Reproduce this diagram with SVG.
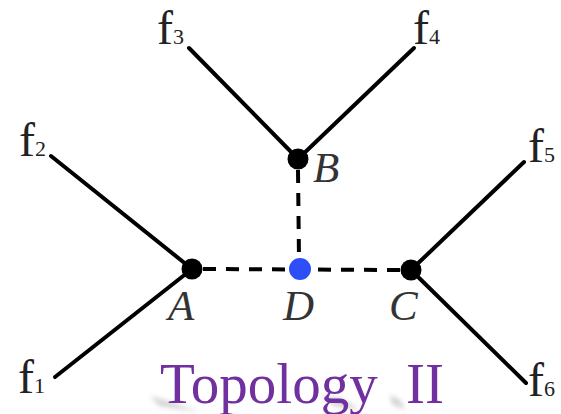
<svg xmlns="http://www.w3.org/2000/svg" width="561" height="414" viewBox="0 0 561 414" font-family="Liberation Serif">
<style>
.edge{stroke:#000;stroke-width:4;stroke-linecap:round;fill:none}
.dash{stroke:#000;stroke-width:4;fill:none;stroke-dasharray:13 10}
.f{font-size:48px;fill:#222}
.sub{font-size:22px}
.lbl{font-style:italic;font-size:43px;fill:#333}
.title{font-size:57px;fill:#7030A0}
</style>
<defs>
<filter id="blur" x="-20%" y="-50%" width="140%" height="200%"><feGaussianBlur stdDeviation="2.5"/></filter>
</defs>
<g id="connectors">
<line class="edge" x1="51" y1="156" x2="192" y2="269"/>
<line class="edge" x1="55" y1="377" x2="192" y2="269"/>
<line class="edge" x1="189" y1="48" x2="298" y2="159"/>
<line class="edge" x1="414" y1="48" x2="298" y2="159"/>
<line class="edge" x1="524" y1="162" x2="411" y2="270"/>
<line class="edge" x1="526" y1="383" x2="411" y2="270"/>
<line class="dash" x1="203" y1="269" x2="400" y2="270"/>
<line class="dash" x1="298" y1="170" x2="299" y2="259"/>
</g>
<g id="node-A"><circle cx="192" cy="269" r="10.5" fill="#000"/><text class="lbl" font-family="Liberation Serif" x="168" y="320">A</text></g>
<g id="node-B"><circle cx="298" cy="159" r="10.5" fill="#000"/><text class="lbl" font-family="Liberation Serif" x="313" y="182">B</text></g>
<g id="node-C"><circle cx="411" cy="270" r="10.5" fill="#000"/><text class="lbl" font-family="Liberation Serif" x="389" y="320">C</text></g>
<g id="node-D"><circle cx="300" cy="269" r="11" fill="#2e4ff7"/><text class="lbl" font-family="Liberation Serif" x="283" y="320">D</text></g>
<g id="leaf-f1"><text class="f" font-family="Liberation Serif" x="18" y="393">f<tspan class="sub">1</tspan></text></g>
<g id="leaf-f2"><text class="f" font-family="Liberation Serif" x="19" y="156">f<tspan class="sub">2</tspan></text></g>
<g id="leaf-f3"><text class="f" font-family="Liberation Serif" x="157" y="44">f<tspan class="sub">3</tspan></text></g>
<g id="leaf-f4"><text class="f" font-family="Liberation Serif" x="413" y="44">f<tspan class="sub">4</tspan></text></g>
<g id="leaf-f5"><text class="f" font-family="Liberation Serif" x="528" y="162">f<tspan class="sub">5</tspan></text></g>
<g id="leaf-f6"><text class="f" font-family="Liberation Serif" x="528" y="396">f<tspan class="sub">6</tspan></text></g>
<g id="title">
<g filter="url(#blur)" fill="#999" opacity="0.45">
<polygon points="150,396 170,402 200,412 160,406"/>
<polygon points="320,396 340,398 360,410 335,406"/>
<polygon points="390,395 400,400 405,410 392,404"/>
</g>
<text class="title" font-family="Liberation Serif" x="160" y="403">Topology</text>
<text class="title" font-family="Liberation Serif" x="406" y="403">II</text>
</g>
</svg>
